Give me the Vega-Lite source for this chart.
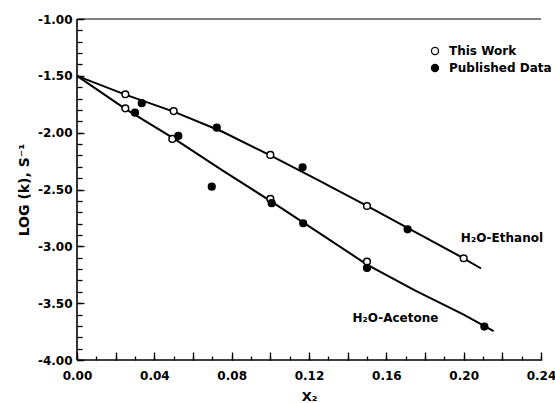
{
  "$schema": "https://vega.github.io/schema/vega-lite/v6.json",
  "width": 464,
  "height": 341,
  "autosize": "none",
  "padding": {"left": 77, "top": 19, "right": 14, "bottom": 43},
  "background": "white",
  "config": {
    "view": {"stroke": null},
    "font": "DejaVu Sans",
    "axis": {"grid": false, "domain": false, "tickColor": "black", "tickWidth": 1.3, "labelColor": "black", "titleColor": "black", "labelFont": "DejaVu Sans", "labelFontWeight": "bold", "labelFontSize": 12, "titleFont": "DejaVu Sans", "titleFontWeight": "bold", "titleFontSize": 13, "labelOverlap": false, "labelBound": false, "labelFlush": false}
  },
  "resolve": {"axis": {"x": "independent", "y": "independent"}},
  "datasets": {
    "points": [
      {"x": 0.025, "y": -1.662, "series": "H2O-Ethanol", "source": "This Work"},
      {"x": 0.05, "y": -1.81, "series": "H2O-Ethanol", "source": "This Work"},
      {"x": 0.10, "y": -2.196, "series": "H2O-Ethanol", "source": "This Work"},
      {"x": 0.15, "y": -2.645, "series": "H2O-Ethanol", "source": "This Work"},
      {"x": 0.20, "y": -3.105, "series": "H2O-Ethanol", "source": "This Work"},
      {"x": 0.0335, "y": -1.741, "series": "H2O-Ethanol", "source": "Published Data"},
      {"x": 0.0723, "y": -1.956, "series": "H2O-Ethanol", "source": "Published Data"},
      {"x": 0.1167, "y": -2.305, "series": "H2O-Ethanol", "source": "Published Data"},
      {"x": 0.171, "y": -2.85, "series": "H2O-Ethanol", "source": "Published Data"},
      {"x": 0.025, "y": -1.786, "series": "H2O-Acetone", "source": "This Work"},
      {"x": 0.0493, "y": -2.055, "series": "H2O-Acetone", "source": "This Work"},
      {"x": 0.10, "y": -2.583, "series": "H2O-Acetone", "source": "This Work"},
      {"x": 0.15, "y": -3.134, "series": "H2O-Acetone", "source": "This Work"},
      {"x": 0.030, "y": -1.824, "series": "H2O-Acetone", "source": "Published Data"},
      {"x": 0.0524, "y": -2.029, "series": "H2O-Acetone", "source": "Published Data"},
      {"x": 0.0697, "y": -2.475, "series": "H2O-Acetone", "source": "Published Data"},
      {"x": 0.1007, "y": -2.62, "series": "H2O-Acetone", "source": "Published Data"},
      {"x": 0.117, "y": -2.797, "series": "H2O-Acetone", "source": "Published Data"},
      {"x": 0.150, "y": -3.19, "series": "H2O-Acetone", "source": "Published Data"},
      {"x": 0.2107, "y": -3.706, "series": "H2O-Acetone", "source": "Published Data"}
    ],
    "curves": [
      {"x": 0.0, "y": -1.5, "series": "H2O-Ethanol"},
      {"x": 0.025, "y": -1.665, "series": "H2O-Ethanol"},
      {"x": 0.05, "y": -1.815, "series": "H2O-Ethanol"},
      {"x": 0.075, "y": -1.99, "series": "H2O-Ethanol"},
      {"x": 0.10, "y": -2.2, "series": "H2O-Ethanol"},
      {"x": 0.125, "y": -2.42, "series": "H2O-Ethanol"},
      {"x": 0.15, "y": -2.645, "series": "H2O-Ethanol"},
      {"x": 0.175, "y": -2.875, "series": "H2O-Ethanol"},
      {"x": 0.20, "y": -3.105, "series": "H2O-Ethanol"},
      {"x": 0.209, "y": -3.195, "series": "H2O-Ethanol"},
      {"x": 0.0, "y": -1.5, "series": "H2O-Acetone"},
      {"x": 0.025, "y": -1.79, "series": "H2O-Acetone"},
      {"x": 0.05, "y": -2.05, "series": "H2O-Acetone"},
      {"x": 0.075, "y": -2.33, "series": "H2O-Acetone"},
      {"x": 0.10, "y": -2.6, "series": "H2O-Acetone"},
      {"x": 0.125, "y": -2.88, "series": "H2O-Acetone"},
      {"x": 0.15, "y": -3.16, "series": "H2O-Acetone"},
      {"x": 0.175, "y": -3.39, "series": "H2O-Acetone"},
      {"x": 0.20, "y": -3.6, "series": "H2O-Acetone"},
      {"x": 0.2155, "y": -3.745, "series": "H2O-Acetone"}
    ],
    "labels": [
      {"x": 0.2198, "y": -2.926, "text": "H₂O-Ethanol"},
      {"x": 0.1647, "y": -3.63, "text": "H₂O-Acetone"}
    ]
  },
  "layer": [
    {
      "data": {"values": [{"v": -1}]},
      "mark": {"type": "rule", "color": "black", "strokeWidth": 1.2},
      "encoding": {"y": {"field": "v", "type": "quantitative", "scale": {"domain": [-4, -1], "nice": false, "zero": false}, "axis": null}}
    },
    {
      "data": {"values": [{"v": -4}]},
      "mark": {"type": "rule", "color": "black", "strokeWidth": 1.6},
      "encoding": {"y": {"field": "v", "type": "quantitative", "scale": {"domain": [-4, -1], "nice": false, "zero": false}, "axis": null}}
    },
    {
      "data": {"values": [{"v": 0}]},
      "mark": {"type": "rule", "color": "black", "strokeWidth": 1.6},
      "encoding": {"x": {"field": "v", "type": "quantitative", "scale": {"domain": [0, 0.24], "nice": false, "zero": false}, "axis": null}}
    },
    {
      "data": {"name": "curves"},
      "mark": {"type": "line", "color": "black", "strokeWidth": 2},
      "encoding": {
        "x": {"field": "x", "type": "quantitative", "scale": {"domain": [0, 0.24], "nice": false, "zero": false},
          "axis": {"orient": "bottom", "title": null, "labels": false, "offset": -4, "tickSize": 4, "values": [0,0.01,0.02,0.03,0.04,0.05,0.06,0.07,0.08,0.09,0.1,0.11,0.12,0.13,0.14,0.15,0.16,0.17,0.18,0.19,0.2,0.21,0.22,0.23,0.24]}},
        "y": {"field": "y", "type": "quantitative", "scale": {"domain": [-4, -1], "nice": false, "zero": false},
          "axis": {"orient": "left", "title": null, "labels": false, "offset": -5, "tickSize": 5, "values": [-4,-3.9,-3.8,-3.7,-3.6,-3.5,-3.4,-3.3,-3.2,-3.1,-3,-2.9,-2.8,-2.7,-2.6,-2.5,-2.4,-2.3,-2.2,-2.1,-2,-1.9,-1.8,-1.7,-1.6,-1.5,-1.4,-1.3,-1.2,-1.1,-1]}},
        "detail": {"field": "series"}
      }
    },
    {
      "data": {"name": "points"},
      "mark": {"type": "point", "shape": "circle", "stroke": "black", "strokeWidth": 1.5, "opacity": 1, "size": 45},
      "encoding": {
        "x": {"field": "x", "type": "quantitative", "scale": {"domain": [0, 0.24], "nice": false, "zero": false},
          "axis": {"orient": "bottom", "title": "X₂", "offset": -8, "tickSize": 8, "values": [0,0.02,0.04,0.06,0.08,0.1,0.12,0.14,0.16,0.18,0.2,0.22,0.24],
            "labelExpr": "round(datum.value*100) % 4 == 0 ? format(datum.value, '.2f') : ''",
            "labelPadding": 10, "titlePadding": 9}},
        "y": {"field": "y", "type": "quantitative", "scale": {"domain": [-4, -1], "nice": false, "zero": false},
          "axis": {"orient": "left", "title": "LOG (k), S⁻¹", "titleFontSize": 14, "offset": -7, "tickSize": 7, "values": [-4,-3.5,-3,-2.5,-2,-1.5,-1],
            "labelExpr": "replace(format(datum.value, '.2f'), '−', '-')",
            "labelPadding": 5, "titlePadding": 6}},
        "fill": {"field": "source", "type": "nominal", "scale": {"domain": ["This Work", "Published Data"], "range": ["white", "black"]},
          "legend": {"title": null, "orient": "none", "legendX": 352, "legendY": 26, "symbolStrokeColor": "black", "symbolStrokeWidth": 1.3, "symbolSize": 50, "labelFont": "DejaVu Sans", "labelFontWeight": "bold", "labelFontSize": 12, "labelColor": "black", "labelOffset": 8, "rowPadding": 3, "symbolOpacity": 1}}
      }
    },
    {
      "data": {"name": "labels"},
      "mark": {"type": "text", "font": "DejaVu Sans", "fontSize": 12, "fontWeight": "bold", "color": "black"},
      "encoding": {
        "x": {"field": "x", "type": "quantitative", "scale": {"domain": [0, 0.24], "nice": false, "zero": false}, "axis": null},
        "y": {"field": "y", "type": "quantitative", "scale": {"domain": [-4, -1], "nice": false, "zero": false}, "axis": null},
        "text": {"field": "text"}
      }
    }
  ]
}
